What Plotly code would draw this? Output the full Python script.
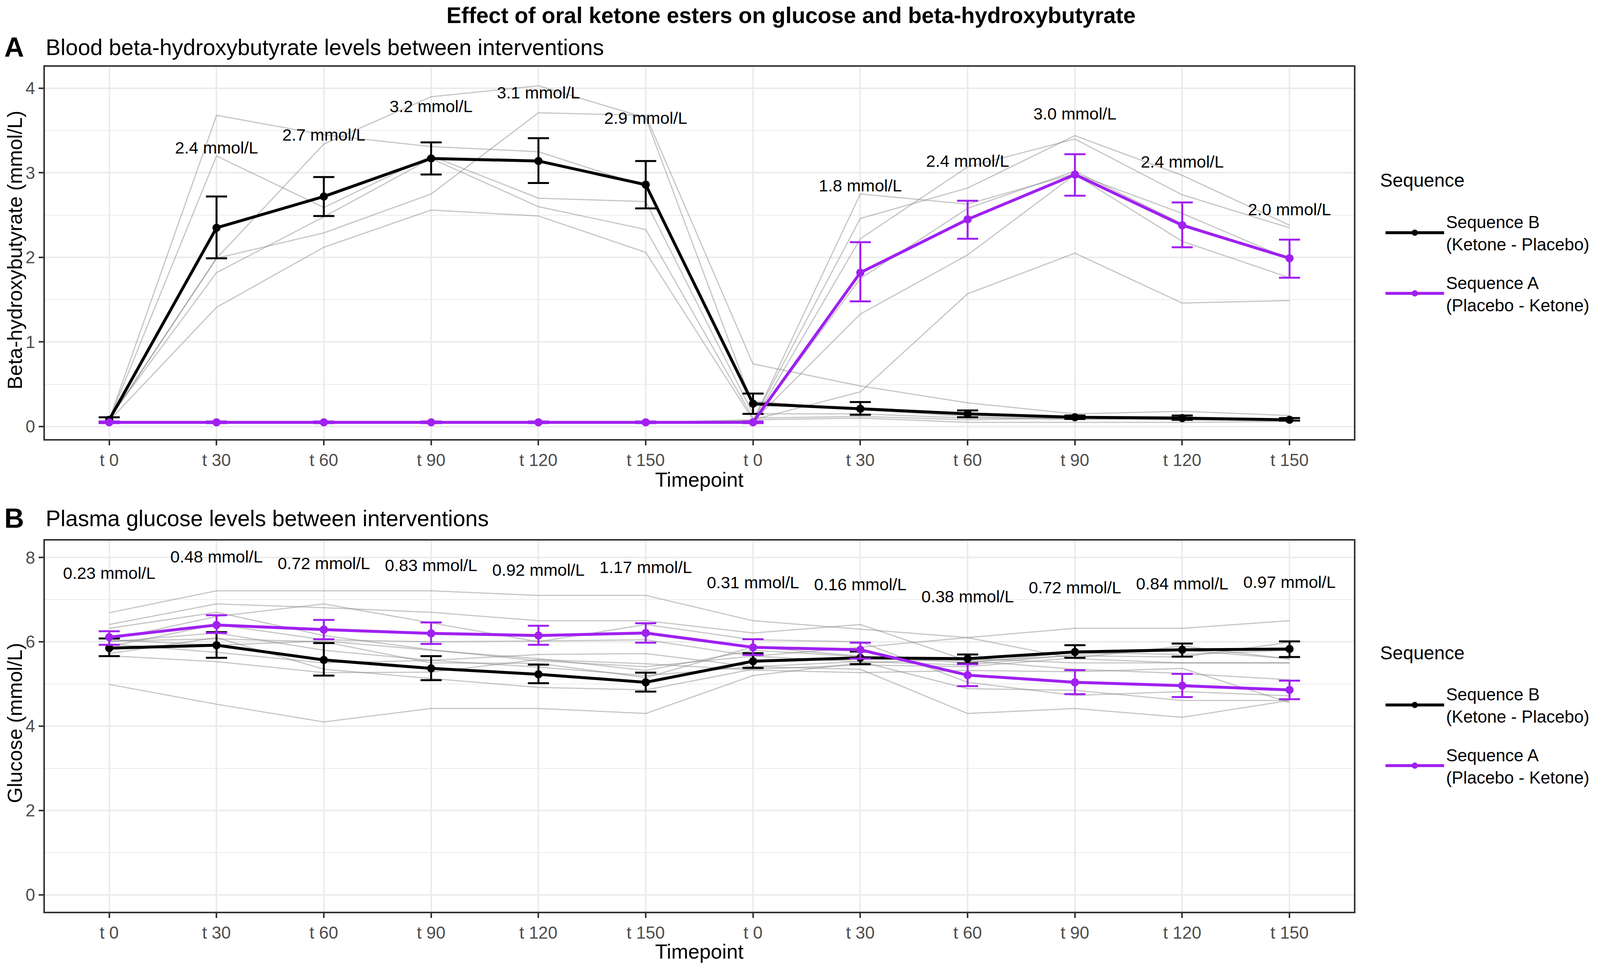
import plotly.graph_objects as go

# x categories (two test days, 6 timepoints each)
timepoints = ["t 0", "t 30", "t 60", "t 90", "t 120", "t 150",
              "t 0", "t 30", "t 60", "t 90", "t 120", "t 150"]
xpos = list(range(len(timepoints)))

# ---- Panel A: beta-hydroxybutyrate (mmol/L) ----
bhb_b_mean = [0.08, 2.35, 2.72, 3.17, 3.14, 2.86, 0.27, 0.21, 0.15, 0.11, 0.10, 0.08]
bhb_b_hi = [0.11, 2.72, 2.95, 3.36, 3.41, 3.14, 0.39, 0.29, 0.19, 0.13, 0.13, 0.10]
bhb_b_lo = [0.05, 1.99, 2.49, 2.98, 2.88, 2.58, 0.15, 0.14, 0.11, 0.09, 0.08, 0.07]

bhb_a_mean = [0.05, 0.05, 0.05, 0.05, 0.05, 0.05, 0.05, 1.82, 2.45, 2.98, 2.38, 1.99]
bhb_a_hi = [0.06, 0.06, 0.06, 0.06, 0.06, 0.06, 0.06, 2.18, 2.67, 3.22, 2.65, 2.21]
bhb_a_lo = [0.04, 0.04, 0.04, 0.04, 0.04, 0.04, 0.04, 1.48, 2.22, 2.73, 2.12, 1.76]

# individual participants (grey lines)
bhb_subjects = [
    [0.08, 3.68, 3.45, 3.31, 3.25, 2.84, 0.30, 0.20, 0.12, 0.08, 0.10, 0.08],
    [0.08, 3.20, 2.59, 3.20, 2.70, 2.66, 0.15, 0.15, 0.10, 0.10, 0.08, 0.07],
    [0.08, 1.99, 3.34, 3.90, 4.03, 3.65, 0.25, 0.22, 0.15, 0.10, 0.10, 0.08],
    [0.10, 1.82, 2.48, 3.17, 2.60, 2.33, 0.10, 0.12, 0.08, 0.10, 0.08, 0.07],
    [0.07, 1.41, 2.12, 2.56, 2.49, 2.06, 0.08, 0.10, 0.05, 0.05, 0.05, 0.06],
    [0.08, 1.99, 2.29, 2.75, 3.71, 3.68, 0.74, 0.48, 0.28, 0.15, 0.18, 0.13],
    [0.05, 0.05, 0.05, 0.05, 0.05, 0.05, 0.06, 2.75, 2.63, 2.99, 2.52, 1.98],
    [0.05, 0.05, 0.05, 0.05, 0.05, 0.05, 0.07, 2.46, 2.82, 3.44, 2.97, 2.38],
    [0.05, 0.05, 0.05, 0.05, 0.05, 0.05, 0.05, 2.22, 3.07, 3.40, 2.74, 2.35],
    [0.05, 0.05, 0.05, 0.05, 0.05, 0.05, 0.06, 1.33, 2.03, 2.98, 2.19, 1.76],
    [0.05, 0.05, 0.05, 0.05, 0.05, 0.05, 0.08, 0.41, 1.57, 2.05, 1.46, 1.49],
    [0.05, 0.05, 0.05, 0.05, 0.05, 0.05, 0.05, 1.75, 2.58, 3.02, 2.40, 1.98],
]

bhb_label_x = [1, 2, 3, 4, 5, 7, 8, 9, 10, 11]
bhb_label_y = [3.28, 3.43, 3.77, 3.93, 3.63, 2.83, 3.12, 3.68, 3.11, 2.55]
bhb_labels = ["2.4 mmol/L", "2.7 mmol/L", "3.2 mmol/L", "3.1 mmol/L", "2.9 mmol/L",
              "1.8 mmol/L", "2.4 mmol/L", "3.0 mmol/L", "2.4 mmol/L", "2.0 mmol/L"]

# ---- Panel B: plasma glucose (mmol/L) ----
glu_b_mean = [5.85, 5.92, 5.57, 5.37, 5.23, 5.04, 5.54, 5.62, 5.60, 5.76, 5.81, 5.83]
glu_b_hi = [6.08, 6.23, 5.97, 5.66, 5.46, 5.27, 5.73, 5.77, 5.70, 5.92, 5.96, 6.01]
glu_b_lo = [5.66, 5.62, 5.20, 5.09, 5.02, 4.82, 5.38, 5.47, 5.49, 5.62, 5.65, 5.64]

glu_a_mean = [6.11, 6.40, 6.29, 6.20, 6.15, 6.21, 5.87, 5.81, 5.21, 5.04, 4.96, 4.86]
glu_a_hi = [6.25, 6.63, 6.52, 6.46, 6.38, 6.44, 6.06, 5.98, 5.47, 5.33, 5.24, 5.08]
glu_a_lo = [5.93, 6.21, 6.06, 5.95, 5.93, 5.98, 5.69, 5.60, 4.95, 4.76, 4.69, 4.64]

glu_subjects = [
    [4.99, 4.52, 4.10, 4.42, 4.42, 4.30, 5.20, 5.50, 5.60, 5.50, 5.50, 5.50],
    [6.32, 6.70, 6.15, 5.81, 5.55, 5.41, 5.66, 5.87, 6.10, 6.32, 6.32, 6.50],
    [5.72, 6.10, 5.35, 5.13, 4.92, 4.86, 5.35, 5.45, 5.41, 5.62, 5.90, 5.59],
    [6.00, 6.21, 5.80, 5.56, 5.40, 5.20, 5.41, 5.53, 5.45, 5.70, 5.80, 5.60],
    [6.05, 5.92, 6.02, 5.80, 5.60, 5.32, 5.80, 5.65, 5.50, 5.75, 5.70, 5.80],
    [6.02, 6.07, 6.00, 5.50, 5.49, 5.15, 5.88, 5.66, 5.54, 5.67, 5.64, 5.99],
    [6.69, 7.21, 7.21, 7.21, 7.10, 7.10, 6.50, 6.30, 6.10, 5.60, 5.50, 5.50],
    [6.41, 6.90, 6.81, 6.70, 6.50, 6.50, 6.21, 6.41, 5.55, 5.35, 5.25, 5.10],
    [6.05, 6.60, 6.90, 6.45, 6.00, 6.41, 6.05, 6.00, 5.04, 4.73, 4.82, 4.72],
    [5.89, 6.41, 6.05, 6.00, 6.02, 6.05, 5.66, 5.53, 4.89, 4.85, 4.61, 4.61],
    [5.95, 5.75, 5.50, 5.56, 5.70, 5.72, 5.41, 5.35, 4.30, 4.42, 4.21, 4.61],
    [5.67, 5.53, 5.27, 5.28, 5.58, 5.48, 5.33, 5.27, 5.32, 5.29, 5.37, 4.56],
]

glu_label_y = [7.59, 7.98, 7.82, 7.78, 7.67, 7.73, 7.37, 7.32, 7.04, 7.25, 7.34, 7.38]
glu_labels = ["0.23 mmol/L", "0.48 mmol/L", "0.72 mmol/L", "0.83 mmol/L", "0.92 mmol/L",
              "1.17 mmol/L", "0.31 mmol/L", "0.16 mmol/L", "0.38 mmol/L", "0.72 mmol/L",
              "0.84 mmol/L", "0.97 mmol/L"]

FONT = "Liberation Sans, Arial, sans-serif"
BLACK = "#000000"
PURPLE = "#A020F0"
GREY = "rgba(128,128,128,0.45)"

# page is 4096 px wide with an 8 px body margin; layout numbers below are
# measured on the 4317 x 2473 reference and mapped onto that page
FW, FH = 4080, 2457
SX = 4096 / 4317


def px(x):
    return (x * SX - 8) / FW


def py(y):
    return 1 - (y - 8) / FH


fig = go.Figure()


def add_panel(xa, ya, legend, subjects, b_mean, b_hi, b_lo, a_mean, a_hi, a_lo,
              lab_x, lab_y, labels):
    for s in subjects:
        fig.add_trace(go.Scatter(x=xpos, y=s, mode="lines", xaxis=xa, yaxis=ya,
                                 line=dict(color=GREY, width=3),
                                 showlegend=False, hoverinfo="skip"))
    for name, color, m, hi, lo in [
        ("Sequence B<br>(Ketone - Placebo)", BLACK, b_mean, b_hi, b_lo),
        ("Sequence A<br>(Placebo - Ketone)", PURPLE, a_mean, a_hi, a_lo),
    ]:
        fig.add_trace(go.Scatter(
            x=xpos, y=m, mode="lines+markers", name=name,
            xaxis=xa, yaxis=ya, legend=legend, legendgroup=name,
            line=dict(color=color, width=7.5),
            marker=dict(color=color, size=21),
            error_y=dict(type="data", symmetric=False,
                         array=[h - v for h, v in zip(hi, m)],
                         arrayminus=[v - l for v, l in zip(m, lo)],
                         color=color, thickness=5, width=27),
        ))
    fig.add_trace(go.Scatter(x=lab_x, y=lab_y, text=labels, mode="text",
                             xaxis=xa, yaxis=ya, showlegend=False,
                             textfont=dict(size=43, color="black", family=FONT),
                             hoverinfo="skip"))


add_panel("x", "y", "legend", bhb_subjects, bhb_b_mean, bhb_b_hi, bhb_b_lo,
          bhb_a_mean, bhb_a_hi, bhb_a_lo, bhb_label_x, bhb_label_y, bhb_labels)
add_panel("x2", "y2", "legend2", glu_subjects, glu_b_mean, glu_b_hi, glu_b_lo,
          glu_a_mean, glu_a_hi, glu_a_lo, xpos, glu_label_y, glu_labels)

xdom = [px(121), px(3653)]

axis_common = dict(
    showgrid=True, gridcolor="#EBEBEB", gridwidth=4, zeroline=False,
    showline=True, mirror=True, linecolor="#333333", linewidth=4,
    ticks="outside", ticklen=12, tickwidth=4, tickcolor="#333333",
    tickfont=dict(size=44, color="#4D4D4D", family=FONT),
)
xaxis_style = dict(axis_common, domain=xdom, range=[-0.6, 11.6], tickmode="array",
                   tickvals=xpos, ticktext=timepoints)

legend_style = dict(font=dict(size=44), xanchor="left", yanchor="top",
                    tracegroupgap=38, itemwidth=150, bgcolor="rgba(0,0,0,0)")

fig.update_layout(
    width=FW, height=FH, autosize=False,
    margin=dict(l=0, r=0, t=0, b=0),
    paper_bgcolor="white", plot_bgcolor="white",
    font=dict(family=FONT, color="black"),
    xaxis=dict(xaxis_style, anchor="y"),
    xaxis2=dict(xaxis_style, anchor="y2"),
    yaxis=dict(axis_common, domain=[py(1124), py(171)], anchor="x",
               range=[-0.148, 4.254], tick0=0, dtick=1,
               minor=dict(tick0=0, dtick=0.5, showgrid=True, gridcolor="#EBEBEB",
                          gridwidth=2, ticks="")),
    yaxis2=dict(axis_common, domain=[py(2334), py(1384)], anchor="x2",
                range=[-0.4, 8.4], tick0=0, dtick=2,
                minor=dict(tick0=0, dtick=1, showgrid=True, gridcolor="#EBEBEB",
                           gridwidth=2, ticks="")),
    legend=dict(legend_style, x=px(3733), y=py(532)),
    legend2=dict(legend_style, x=px(3733), y=py(1741)),
)

ann = [
    dict(text="<b>Effect of oral ketone esters on glucose and beta-hydroxybutyrate</b>",
         x=px(2134), y=py(39), size=57),
    dict(text="<b>A</b>", x=px(38), y=py(121), size=70),
    dict(text="Blood beta-hydroxybutyrate levels between interventions",
         x=px(121), y=py(121), xanchor="left", size=57),
    dict(text="<b>B</b>", x=px(38), y=py(1327), size=70),
    dict(text="Plasma glucose levels between interventions",
         x=px(121), y=py(1327), xanchor="left", size=57),
    dict(text="Timepoint", x=(xdom[0] + xdom[1]) / 2, y=py(1228), size=52),
    dict(text="Timepoint", x=(xdom[0] + xdom[1]) / 2, y=py(2436), size=52),
    dict(text="Beta-hydroxybutyrate (mmol/L)", x=px(40), y=py(640),
         textangle=-90, size=52),
    dict(text="Glucose (mmol/L)", x=px(40), y=py(1851), textangle=-90, size=52),
    dict(text="Sequence", x=px(3722), y=py(462), xanchor="left", size=48),
    dict(text="Sequence", x=px(3722), y=py(1671), xanchor="left", size=48),
]
for a in ann:
    size = a.pop("size")
    a.setdefault("xanchor", "center")
    a.update(xref="paper", yref="paper", yanchor="middle", showarrow=False,
             font=dict(size=size, family=FONT, color="black"))
    fig.add_annotation(**a)

fig.write_html("out.html")
